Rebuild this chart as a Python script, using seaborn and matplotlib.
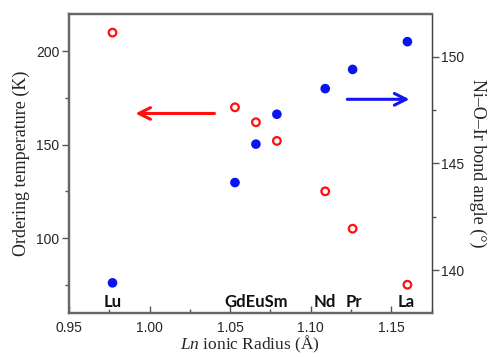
import matplotlib
matplotlib.use("Agg")
import matplotlib.pyplot as plt
import seaborn as sns
from matplotlib.ticker import MultipleLocator, FormatStrFormatter

# ionic radius of Ln (Å)
radius = [0.977, 1.053, 1.066, 1.079, 1.109, 1.126, 1.160]
elements = ["Lu", "Gd", "Eu", "Sm", "Nd", "Pr", "La"]
order_temp = [210, 170, 162, 152, 125, 105, 75]
bond_angle = [139.4, 144.1, 145.9, 147.3, 148.5, 149.4, 150.7]

# element label groups (GdEuSm is written as one string in the original)
label_text = ["Lu", "GdEuSm", "Nd", "Pr", "La"]
label_x = [0.977, 1.066, 1.109, 1.127, 1.159]

sns.set_theme(style="ticks")
plt.rcParams["font.family"] = ["Liberation Sans", "DejaVu Sans"]
plt.rcParams["mathtext.fontset"] = "custom"
plt.rcParams["mathtext.rm"] = "Liberation Serif"
plt.rcParams["mathtext.it"] = "Liberation Serif:italic"

fig = plt.figure(figsize=(4.91, 3.57), dpi=100)
ax = fig.add_axes([0.1405, 0.124, 0.7385, 0.837])
ax2 = ax.twinx()

sns.scatterplot(x=radius, y=order_temp, ax=ax, s=30, marker="o",
                facecolor="none", edgecolor="#ff1010", linewidth=1.6, zorder=3)
sns.scatterplot(x=radius, y=bond_angle, ax=ax2, s=48, marker="o",
                color="#0a14f0", edgecolor="none", zorder=3)

ax.set_xlim(0.95, 1.175)
ax.set_ylim(60, 220)
ax2.set_ylim(138, 152)

ax.xaxis.set_major_locator(MultipleLocator(0.05))
ax.xaxis.set_minor_locator(MultipleLocator(0.025))
ax.yaxis.set_major_locator(MultipleLocator(50))
ax.yaxis.set_minor_locator(MultipleLocator(25))
ax2.yaxis.set_major_locator(MultipleLocator(5))
ax2.yaxis.set_minor_locator(MultipleLocator(2.5))
ax.xaxis.set_major_formatter(FormatStrFormatter("%.2f"))

ax.tick_params(axis="x", which="major", direction="in", length=5, width=1,
               color="#555555", labelsize=10, pad=6)
ax.tick_params(axis="x", which="minor", direction="in", length=3, width=1, color="#555555")
ax.tick_params(axis="y", which="major", direction="out", length=5, width=1,
               color="#555555", labelsize=10, pad=2)
ax.tick_params(axis="y", which="minor", direction="out", length=3, width=1, color="#555555")
ax2.tick_params(axis="y", which="major", direction="out", length=5, width=1,
                color="#555555", labelsize=10, pad=2)
ax2.tick_params(axis="y", which="minor", direction="out", length=3, width=1, color="#555555")

for a in (ax, ax2):
    for side in ["left", "bottom", "top"]:
        a.spines[side].set_color("#666666")
        a.spines[side].set_linewidth(1.6)
    a.spines["right"].set_color("#444444")
    a.spines["right"].set_linewidth(0.9)

ax.set_xlabel("$\\it{Ln}$ ionic Radius (Å)", family="Liberation Serif", fontsize=12.5)
ax.xaxis.set_label_coords(0.5, -0.072)
ax.set_ylabel("Ordering temperature (K)", family="Liberation Serif", fontsize=13, labelpad=4)
ax2.set_ylabel("Ni–O–Ir bond angle (°)", family="Liberation Serif", fontsize=13,
               rotation=270, labelpad=16)

for txt, xv in zip(label_text, label_x):
    ax.text(xv, 65.5, txt, ha="center", va="center", family="Lato",
            fontweight="bold", fontsize=12, color="#111111")

ax.annotate("", xy=(0.9895, 166.7), xytext=(1.042, 166.7),
            arrowprops=dict(arrowstyle="->,head_length=0.7,head_width=0.35",
                            color="#ff1010", lw=2.2))
ax2.annotate("", xy=(1.163, 148.0), xytext=(1.121, 148.0),
             arrowprops=dict(arrowstyle="->,head_length=0.7,head_width=0.35",
                             color="#1414f0", lw=2.2))

fig.savefig("out.png", dpi=100)
